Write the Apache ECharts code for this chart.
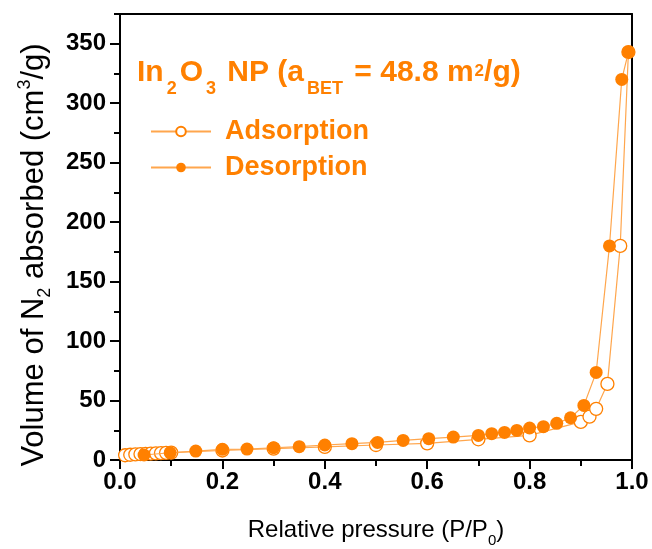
<!DOCTYPE html>
<html><head><meta charset="utf-8">
<script src="https://cdn.jsdelivr.net/npm/echarts@6/dist/echarts.min.js"></script>
<style>html,body{margin:0;padding:0;background:#fff}#c{width:652px;height:549px}</style>
</head><body><div id="c"></div>
<script>
// Data
const adsP = [0.01,0.02,0.03,0.04,0.05,0.06,0.07,0.08,0.09,0.10,0.20,0.30,0.40,0.50,0.60,0.70,0.80,0.90,0.917,0.93,0.952,0.977,0.993];
const adsV = [4.0,4.4,4.7,5.0,5.2,5.4,5.6,5.8,6.0,6.2,8.0,9.6,11.0,12.6,14.0,17.4,20.7,32.0,36.4,43.0,64.0,180.0,343.0];
const desP = [0.993,0.980,0.956,0.930,0.906,0.880,0.853,0.827,0.800,0.775,0.751,0.726,0.700,0.651,0.603,0.553,0.503,0.453,0.400,0.350,0.300,0.248,0.200,0.148,0.098,0.047];
const desV = [343,320,180,73.6,45.9,35.5,30.8,28.0,26.9,24.9,23.2,22.1,20.7,19.3,17.9,16.5,14.8,13.7,12.6,11.2,10.3,9.2,9.0,7.5,6.1,4.2];
const yMajor = [0,50,100,150,200,250,300,350];
const yMinor = [25,75,125,175,225,275,325,375];
const seriesNames = ['Adsorption','Desorption'];

const ORANGE = '#FF8000';
const LINE = '#FFA64D';
const FONT = 'Liberation Sans, Arial, sans-serif';

const chart = echarts.init(document.getElementById('c'), null, {renderer:'canvas'});
const pair = (xs, ys) => xs.map((x,i)=>[x, ys[i]]);

const option = {
  animation: false,
  backgroundColor: '#fff',
  grid: {left:120, right:20, top:14, bottom:89, containLabel:false, outerBoundsMode:'none'},
  title: {
    left: 137, top: 48, padding: 0,
    text: '{m|In}{s|2}{m|O}{s|3}{m| NP (a}{s|BET}{m| = 48.8 m}{p|2}{m|/g)}',
    textStyle: {
      rich: {
        m: {fontSize:30, fontWeight:'bold', color:ORANGE, fontFamily:FONT, lineHeight:50, verticalAlign:'middle'},
        s: {fontSize:18, fontWeight:'bold', color:ORANGE, fontFamily:FONT, lineHeight:12, verticalAlign:'bottom', padding:[0,3,0,3]},
        p: {fontSize:17, fontWeight:'bold', color:ORANGE, fontFamily:FONT, lineHeight:17, verticalAlign:'middle', padding:[0,0,3,1]}
      }
    }
  },
  legend: {
    orient:'vertical', left:150, top:118, padding:0,
    itemWidth:60, itemHeight:12, itemGap:9,
    data: seriesNames,
    textStyle: {fontSize:27, fontWeight:'bold', color:ORANGE, fontFamily:FONT, lineHeight:27, padding:[0,0,0,9]}
  },
  xAxis: [{
    type:'value', min:0, max:1, interval:0.2, position:'bottom',
    axisLine:{show:true, onZero:false, lineStyle:{color:'#000', width:2}},
    axisTick:{show:true, inside:false, length:9, lineStyle:{color:'#000', width:2}},
    minorTick:{show:true, splitNumber:2, length:6, lineStyle:{color:'#000', width:2}},
    splitLine:{show:false},
    axisLabel:{fontSize:24, fontWeight:'bold', color:'#000', fontFamily:FONT, margin:10,
      formatter: v => v.toFixed(1)},
    name:'{n|Relative pressure (P/P}{s|0}{n|)}',
    nameLocation:'middle', nameGap:52,
    nameTextStyle:{rich:{
      n:{fontSize:24, color:'#000', fontFamily:FONT, lineHeight:36, verticalAlign:'middle'},
      s:{fontSize:15, color:'#000', fontFamily:FONT, lineHeight:10, verticalAlign:'bottom'}
    }}
  },{
    type:'value', min:0, max:1, position:'top',
    axisLine:{show:true, onZero:false, lineStyle:{color:'#000', width:2}},
    axisTick:{show:false}, axisLabel:{show:false}, splitLine:{show:false}
  }],
  yAxis: [{
    type:'value', min:0, max:375, interval:50, position:'left',
    axisLine:{show:true, onZero:false, lineStyle:{color:'#000', width:2}},
    axisTick:{show:true, inside:false, length:10, customValues:yMajor, lineStyle:{color:'#000', width:2}},
    splitLine:{show:false},
    axisLabel:{fontSize:24, fontWeight:'bold', color:'#000', fontFamily:FONT, margin:14, customValues:yMajor},
    name:'{n|Volume of N}{s|2}{n| absorbed (cm}{p|3}{n|/g)}',
    nameLocation:'middle', nameGap:66, nameRotate:90,
    nameTextStyle:{padding:[0,36,0,0], rich:{
      n:{fontSize:31, color:'#000', fontFamily:FONT, lineHeight:40, verticalAlign:'middle'},
      s:{fontSize:18, color:'#000', fontFamily:FONT, lineHeight:10, verticalAlign:'bottom'},
      p:{fontSize:18, color:'#000', fontFamily:FONT, lineHeight:18, verticalAlign:'top', padding:[2,0,0,0]}
    }}
  },{
    type:'value', min:0, max:375, position:'left',
    axisLine:{show:false},
    axisTick:{show:true, inside:false, length:6, customValues:yMinor, lineStyle:{color:'#000', width:2}},
    axisLabel:{show:false}, splitLine:{show:false}
  },{
    type:'value', min:0, max:375, position:'right',
    axisLine:{show:true, onZero:false, lineStyle:{color:'#000', width:2}},
    axisTick:{show:false}, axisLabel:{show:false}, splitLine:{show:false}
  }],
  series: [{
    name: seriesNames[0], type:'line', xAxisIndex:0, yAxisIndex:0,
    data: pair(adsP, adsV),
    symbol:'circle', symbolSize:13, showAllSymbol:true,
    lineStyle:{color:LINE, width:1.2},
    itemStyle:{color:'#fff', borderColor:ORANGE, borderWidth:1.3},
    z:2
  },{
    name: seriesNames[1], type:'line', xAxisIndex:0, yAxisIndex:0,
    data: pair(desP, desV),
    symbol:'circle', symbolSize:13, showAllSymbol:true,
    lineStyle:{color:LINE, width:1.2},
    itemStyle:{color:ORANGE, borderColor:ORANGE, borderWidth:0},
    z:3
  }]
};
chart.setOption(option);
</script>
</body></html>
